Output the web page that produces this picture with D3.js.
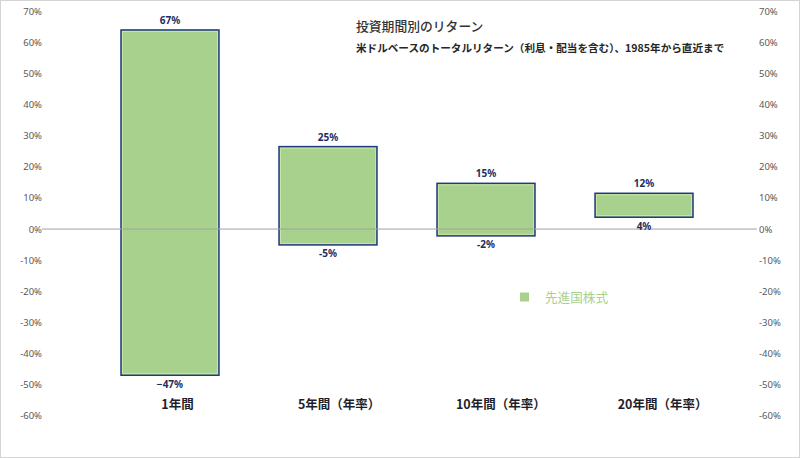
<!DOCTYPE html>
<html>
<head>
<meta charset="utf-8">
<script src="https://cdn.jsdelivr.net/npm/d3@7"></script>
<style>
  body { margin: 0; background: #fff; }
  svg { display: block; font-family: "Noto Sans CJK JP", "Noto Sans", sans-serif; }
</style>
</head>
<body>
<script>
// data
var categories = ["1年間", "5年間（年率）", "10年間（年率）", "20年間（年率）"];
var highs = [64, 26.5, 14.7, 11.5];
var lows = [-47, -5.1, -2.2, 3.8];
var highLabels = ["67%", "25%", "15%", "12%"];
var lowLabels = ["−47%", "-5%", "-2%", "4%"];
var yTicks = [70, 60, 50, 40, 30, 20, 10, 0, -10, -20, -30, -40, -50, -60];
var seriesName = "先進国株式";
var title = "投資期間別のリターン";
var subtitle = "米ドルベースのトータルリターン（利息・配当を含む）、1985年から直近まで";

var w = 800, h = 458;

var svg = d3.select("body").append("svg")
  .attr("width", w)
  .attr("height", h);

// frame
svg.append("rect")
  .attr("x", 0.5).attr("y", 0.5)
  .attr("width", w - 1).attr("height", h - 1)
  .attr("fill", "#fff")
  .attr("stroke", "#d4d4d4");

var yScale = d3.scaleLinear()
  .domain([-60, 70])
  .range([415.7, 11.3]);

// bars
var xScale = d3.scaleBand()
  .domain(categories)
  .range([121, 693])
  .paddingInner(0.38)
  .paddingOuter(0);

// category labels sit a bit apart from the bars
var xLabel = d3.scalePoint()
  .domain(categories)
  .range([177, 662]);

var fmt = function(d) { return d + "%"; };

// left axis
var left = svg.append("g")
  .attr("transform", "translate(44,0)")
  .call(d3.axisLeft(yScale).tickValues(yTicks).tickFormat(fmt).tickSize(0).tickPadding(2));
// right axis
var right = svg.append("g")
  .attr("transform", "translate(757,0)")
  .call(d3.axisRight(yScale).tickValues(yTicks).tickFormat(fmt).tickSize(0).tickPadding(2));

[left, right].forEach(function(g) {
  g.select(".domain").remove();
  g.selectAll("text")
    .attr("fill", "#595959")
    .style("font-family", "'Noto Sans', sans-serif")
    .style("font-size", "9.5px");
});

var rows = categories.map(function(c, i) {
  return { cat: c, hi: highs[i], lo: lows[i], hiLabel: highLabels[i], loLabel: lowLabels[i] };
});

// bars (outer navy edge + thin light inner edge)
svg.selectAll("rect.bar")
  .data(rows)
  .enter().append("rect")
  .attr("class", "bar")
  .attr("x", function(d) { return xScale(d.cat); })
  .attr("y", function(d) { return yScale(d.hi); })
  .attr("width", xScale.bandwidth())
  .attr("height", function(d) { return yScale(d.lo) - yScale(d.hi); })
  .attr("fill", "#a9d18e")
  .attr("stroke", "#1f3a7f")
  .attr("stroke-width", 1.5);

svg.selectAll("rect.inner")
  .data(rows)
  .enter().append("rect")
  .attr("class", "inner")
  .attr("x", function(d) { return xScale(d.cat) + 1.6; })
  .attr("y", function(d) { return yScale(d.hi) + 1.6; })
  .attr("width", xScale.bandwidth() - 3.2)
  .attr("height", function(d) { return yScale(d.lo) - yScale(d.hi) - 3.2; })
  .attr("fill", "none")
  .attr("stroke", "#cfeaa9")
  .attr("stroke-width", 0.8);

// zero line, drawn over the bars
svg.append("line")
  .attr("x1", 42).attr("x2", 757)
  .attr("y1", yScale(0)).attr("y2", yScale(0))
  .attr("stroke", "#a3a3a3")
  .attr("stroke-width", 1);

// value labels
svg.selectAll("text.hi")
  .data(rows)
  .enter().append("text")
  .attr("class", "hi")
  .attr("x", function(d) { return xScale(d.cat) + xScale.bandwidth() / 2; })
  .attr("y", function(d) { return yScale(d.hi) - 6; })
  .attr("text-anchor", "middle")
  .attr("fill", "#1f2d5c")
  .style("font-family", "'Noto Sans', 'Noto Sans CJK JP', sans-serif")
  .style("font-size", "10px")
  .style("font-weight", "bold")
  .text(function(d) { return d.hiLabel; });

svg.selectAll("text.lo")
  .data(rows)
  .enter().append("text")
  .attr("class", "lo")
  .attr("x", function(d) { return xScale(d.cat) + xScale.bandwidth() / 2; })
  .attr("y", function(d) { return yScale(d.lo) + 12.5; })
  .attr("text-anchor", "middle")
  .attr("fill", "#1f2d5c")
  .style("font-family", "'Noto Sans', 'Noto Sans CJK JP', sans-serif")
  .style("font-size", "10px")
  .style("font-weight", "bold")
  .text(function(d) { return d.loLabel; });

// category axis
var bottom = svg.append("g")
  .attr("transform", "translate(0,396)")
  .call(d3.axisBottom(xLabel).tickSize(0).tickPadding(0));
bottom.select(".domain").remove();
bottom.selectAll("text")
  .attr("dy", "1em")
  .attr("fill", "#1e1e2a")
  .style("font-family", "'Noto Sans CJK JP', sans-serif")
  .style("font-size", "12.5px")
  .style("font-weight", "bold");

// titles
svg.append("text")
  .attr("x", 356).attr("y", 31)
  .attr("fill", "#333")
  .style("font-size", "12.8px")
  .style("font-weight", 500)
  .text(title);

svg.append("text")
  .attr("x", 356).attr("y", 52)
  .attr("fill", "#262626")
  .style("font-size", "10.6px")
  .style("font-weight", "bold")
  .text(subtitle);

// legend
svg.append("rect")
  .attr("x", 520).attr("y", 292.5)
  .attr("width", 9).attr("height", 9)
  .attr("fill", "#a9d18e");
svg.append("text")
  .attr("x", 545).attr("y", 302)
  .attr("fill", "#a9d18e")
  .style("font-size", "12.6px")
  .text(seriesName);
</script>
</body>
</html>
